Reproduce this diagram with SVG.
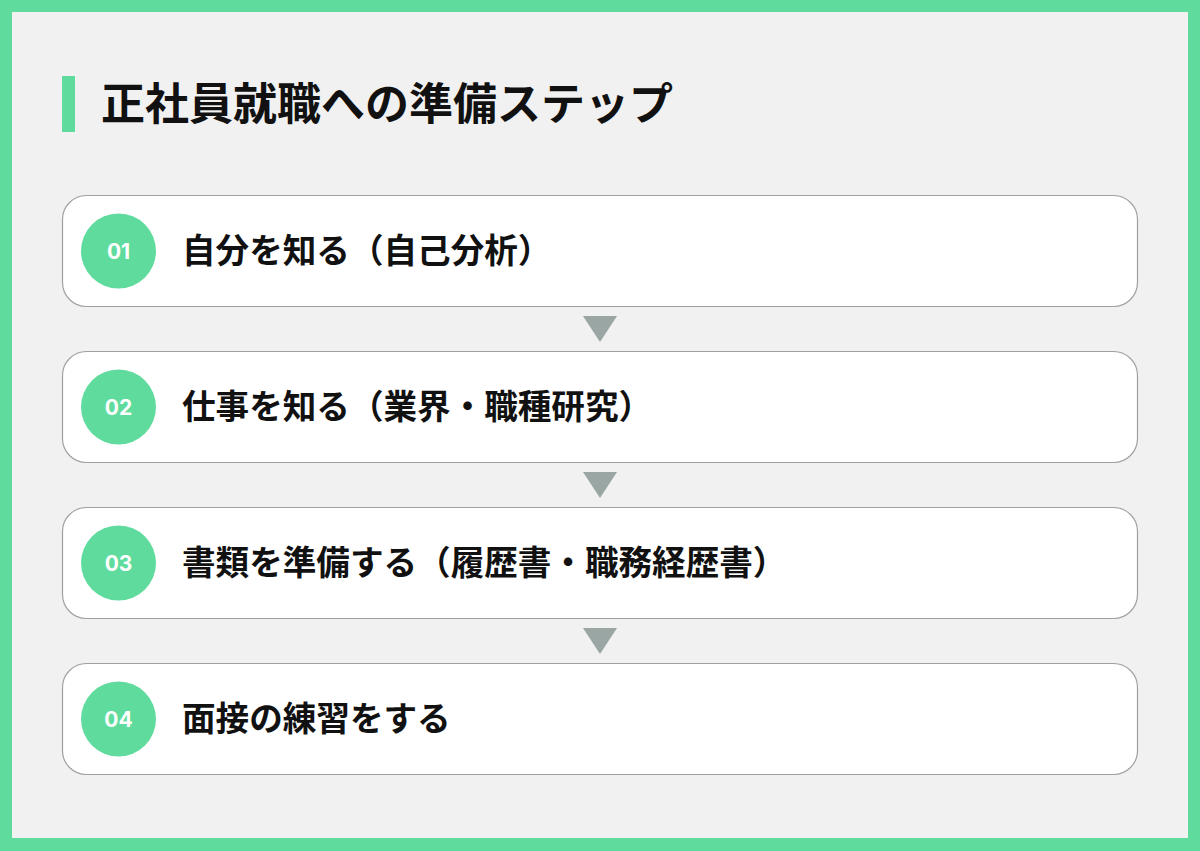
<svg xmlns="http://www.w3.org/2000/svg" width="1200" height="851" viewBox="0 0 1200 851">
<defs>
<style>
.card{fill:#ffffff;stroke:#a0a0a0;stroke-width:1.2}
.badge{fill:#5fdc9d}
.num{font-family:"Inter","Roboto",sans-serif;font-weight:700;font-size:21px;fill:#ffffff}
.label{font-family:"Noto Sans CJK JP",sans-serif;font-weight:700;font-size:33.6px;fill:#111111}
.arrow{fill:#9aa6a4}
</style>
</defs>
<rect x="0" y="0" width="1200" height="851" fill="#5fdc9d"/>
<rect x="12" y="12" width="1176" height="826" fill="#f1f1f1"/>
<g id="title">
<rect x="62" y="76" width="13" height="56" fill="#5fdc9d"/>
<text x="101" y="120" font-family="'Noto Sans CJK JP',sans-serif" font-weight="700" font-size="44" fill="#111111">正社員就職への準備ステップ</text>
</g>
<g id="connectors">
<polygon class="arrow" points="583,316 617,316 600,342"/>
<polygon class="arrow" points="583,472 617,472 600,498"/>
<polygon class="arrow" points="583,628 617,628 600,654"/>
</g>
<g id="step1">
<rect class="card" x="62.5" y="195.5" width="1075" height="111" rx="24"/>
<circle class="badge" cx="118.5" cy="251" r="37.5"/>
<text class="num" x="118.5" y="258.5" text-anchor="middle">01</text>
<text class="label" x="182" y="263">自分を知る（自己分析）</text>
</g>
<g id="step2">
<rect class="card" x="62.5" y="351.5" width="1075" height="111" rx="24"/>
<circle class="badge" cx="118.5" cy="407" r="37.5"/>
<text class="num" x="118.5" y="414.5" text-anchor="middle">02</text>
<text class="label" x="182" y="419">仕事を知る（業界・職種研究）</text>
</g>
<g id="step3">
<rect class="card" x="62.5" y="507.5" width="1075" height="111" rx="24"/>
<circle class="badge" cx="118.5" cy="563" r="37.5"/>
<text class="num" x="118.5" y="570.5" text-anchor="middle">03</text>
<text class="label" x="182" y="575">書類を準備する（履歴書・職務経歴書）</text>
</g>
<g id="step4">
<rect class="card" x="62.5" y="663.5" width="1075" height="111" rx="24"/>
<circle class="badge" cx="118.5" cy="719" r="37.5"/>
<text class="num" x="118.5" y="726.5" text-anchor="middle">04</text>
<text class="label" x="182" y="731">面接の練習をする</text>
</g>
</svg>
